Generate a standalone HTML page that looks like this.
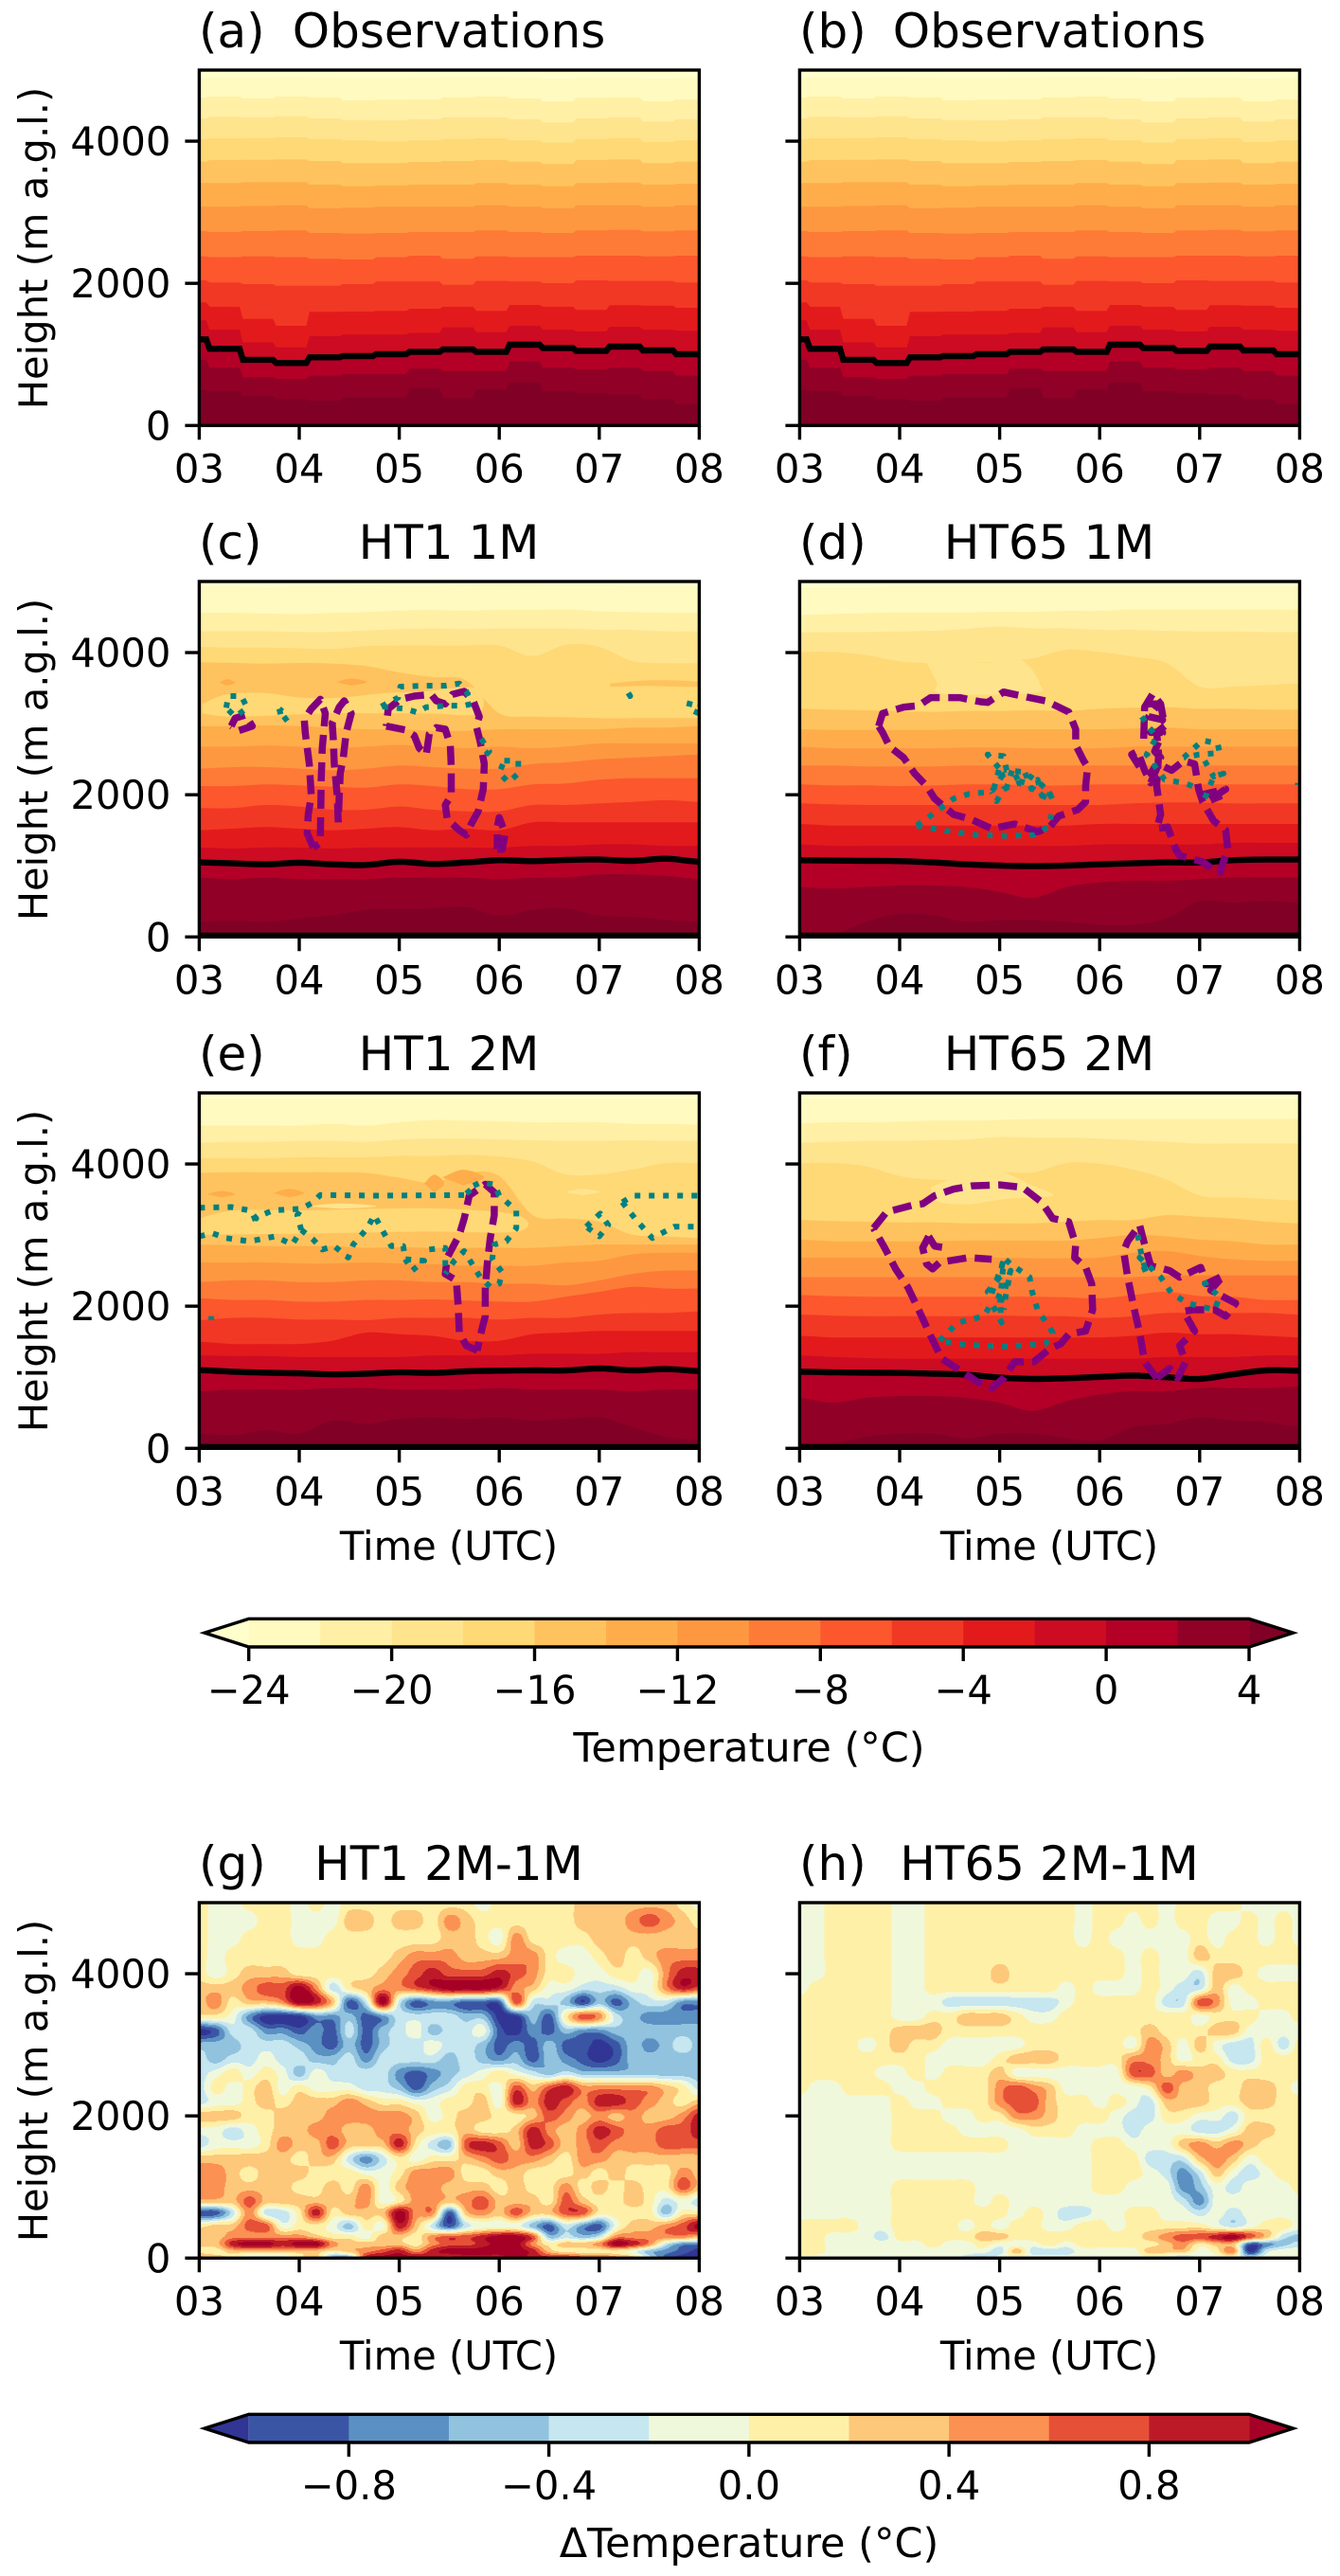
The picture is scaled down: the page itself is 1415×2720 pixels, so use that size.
<!DOCTYPE html>
<html lang="en">
<head>
<meta charset="utf-8">
<title>Temperature time-height panels</title>
<style>
html,body{margin:0;padding:0;background:#fff;}
svg{display:block;}
text{font-family:"DejaVu Sans","Liberation Sans",sans-serif;fill:#000;}
.tick{font-size:41.67px;}
.lab{font-size:41.67px;}
.cblab{font-size:43px;}
.ttl{font-size:50px;}
</style>
</head>
<body>
<svg id="figure" xmlns="http://www.w3.org/2000/svg" width="1415" height="2720" viewBox="0 0 1415 2720">
<rect x="0" y="0" width="1415" height="2720" fill="#fff"/>
<g id="layer-marks"></g>

<text class="ttl" x="210" y="50">(a)</text>
<text class="ttl" x="474" y="50" text-anchor="middle">Observations</text>
<text class="ttl" x="844" y="50">(b)</text>
<text class="ttl" x="1108" y="50" text-anchor="middle">Observations</text>

<text class="ttl" x="210" y="590">(c)</text>
<text class="ttl" x="474" y="590" text-anchor="middle">HT1 1M</text>
<text class="ttl" x="844" y="590">(d)</text>
<text class="ttl" x="1108" y="590" text-anchor="middle">HT65 1M</text>

<text class="ttl" x="210" y="1130">(e)</text>
<text class="ttl" x="474" y="1130" text-anchor="middle">HT1 2M</text>
<text class="ttl" x="844" y="1130">(f)</text>
<text class="ttl" x="1108" y="1130" text-anchor="middle">HT65 2M</text>

<text class="ttl" x="210" y="1985">(g)</text>
<text class="ttl" x="474" y="1985" text-anchor="middle">HT1 2M-1M</text>
<text class="ttl" x="844" y="1985">(h)</text>
<text class="ttl" x="1108" y="1985" text-anchor="middle">HT65 2M-1M</text>

<text class="lab" transform="translate(50,262) rotate(-90)" text-anchor="middle">Height (m a.g.l.)</text>
<text class="lab" transform="translate(50,802) rotate(-90)" text-anchor="middle">Height (m a.g.l.)</text>
<text class="lab" transform="translate(50,1342) rotate(-90)" text-anchor="middle">Height (m a.g.l.)</text>
<text class="lab" transform="translate(50,2197) rotate(-90)" text-anchor="middle">Height (m a.g.l.)</text>

<text class="lab" x="474" y="1647" text-anchor="middle">Time (UTC)</text>
<text class="lab" x="1108" y="1647" text-anchor="middle">Time (UTC)</text>
<text class="lab" x="474" y="2502" text-anchor="middle">Time (UTC)</text>
<text class="lab" x="1108" y="2502" text-anchor="middle">Time (UTC)</text>

<text class="cblab" x="791" y="1860" text-anchor="middle">Temperature (°C)</text>
<text class="cblab" x="791" y="2700" text-anchor="middle">ΔTemperature (°C)</text>
</svg>

<script>
// ---------- axis tick data ----------
const hourTicks = [3, 4, 5, 6, 7, 8];
const hourLabels = ['03', '04', '05', '06', '07', '08'];
const heightTicks = [0, 2000, 4000];
const heightLabels = ['0', '2000', '4000'];

// ---------- colour scales ----------
const tempLevels = [-24, -22, -20, -18, -16, -14, -12, -10, -8, -6, -4, -2, 0, 2, 4];
const tempColors = ['#ffffcc', '#fffabf', '#fff0a6', '#ffe48e', '#fed976', '#fec35e', '#fead4a', '#fd9841', '#fd7b37', '#fc572d', '#f13824', '#e31a1c', '#cd0b22', '#b40026', '#910026', '#800026'];
const tempCbarTicks = [-24, -20, -16, -12, -8, -4, 0, 4];
const tempCbarLabels = ['\u221224', '\u221220', '\u221216', '\u221212', '\u22128', '\u22124', '0', '4'];

const deltaLevels = [-1, -0.8, -0.6, -0.4, -0.2, 0, 0.2, 0.4, 0.6, 0.8, 1];
const deltaColors = ['#313695', '#3b55a5', '#5b90c2', '#91c3df', '#c6e6f0', '#f0f8dc', '#fff0a8', '#fdc87a', '#fb9153', '#e65037', '#bd1a28', '#a50026'];
const deltaCbarTicks = [-0.8, -0.4, 0, 0.4, 0.8];
const deltaCbarLabels = ['\u22120.8', '\u22120.4', '0.0', '0.4', '0.8'];

// ---------- temperature contour boundaries (m) at each time knot, one row per level ----------
const knotTimes = [3, 3.333, 3.667, 4, 4.333, 4.667, 5, 5.333, 5.667, 6, 6.333, 6.667, 7, 7.333, 7.667, 8];

const obsBoundaries = [
[4890,4900,4900,4910,4900,4890,4890,4900,4910,4910,4900,4880,4900,4900,4880,4890],
[4609,4631,4600,4631,4618,4574,4583,4587,4618,4631,4600,4556,4609,4618,4565,4587],
[4321,4343,4334,4352,4321,4298,4290,4307,4334,4334,4307,4263,4321,4334,4276,4307],
[4032,4041,4045,4054,4032,4010,3996,4010,4032,4041,4010,3979,4032,4045,3988,4010],
[3712,3735,3739,3743,3721,3690,3690,3708,3721,3735,3712,3677,3735,3743,3690,3712],
[3410,3410,3424,3424,3388,3366,3379,3388,3388,3410,3388,3366,3410,3419,3388,3401],
[3077,3077,3090,3099,3055,3064,3077,3077,3077,3099,3077,3055,3099,3099,3077,3099],
[2735,2722,2735,2744,2709,2700,2709,2722,2722,2744,2722,2709,2744,2753,2731,2744],
[2380,2367,2380,2367,2345,2336,2367,2389,2345,2380,2367,2367,2389,2389,2380,2389],
[2043,2012,1989,1967,1967,1989,2025,2025,1980,2034,2025,2003,2043,2034,2034,2012],
[1732,1670,1501,1403,1599,1603,1612,1643,1670,1612,1696,1670,1625,1692,1687,1656],
[1479,1345,1168,1101,1257,1279,1279,1301,1381,1314,1403,1345,1323,1390,1345,1332],
[1212,1079,924,879,959,977,1003,1035,1070,1035,1137,1088,1048,1110,1057,1003],
[924,813,679,657,702,724,724,799,768,768,901,813,790,813,768,702],
[502,480,413,369,346,391,391,524,382,502,604,480,457,435,369,302]
];
const ht1m1Boundaries = [
[4930,4930,4920,4930,4930,4940,4930,4930,4950,4960,4960,4950,4950,4930,4930,4930],
[4560,4560,4550,4540,4560,4570,4590,4600,4590,4600,4600,4610,4580,4570,4560,4560],
[4300,4300,4300,4290,4290,4310,4330,4340,4330,4340,4340,4340,4320,4320,4300,4300],
[4080,4070,4070,4060,4050,4090,4100,4100,4100,4100,3950,4110,4080,3880,3850,3850],
[3863,3854,3845,3854,3845,3810,3721,3654,3610,3144,3099,3090,3077,3077,3077,3077],
[2966,2966,2975,2966,2944,2921,2921,2899,2899,2921,2921,2921,2921,2944,2944,2966],
[2677,2677,2691,2677,2655,2677,2700,2677,2655,2677,2655,2677,2722,2722,2722,2722],
[2367,2389,2389,2367,2344,2367,2411,2389,2367,2367,2433,2455,2500,2522,2544,2566],
[2122,2122,2145,2131,2113,2100,2145,2122,2078,2078,2145,2158,2211,2233,2233,2233],
[1812,1812,1856,1834,1789,1789,1834,1789,1767,1767,1856,1856,1878,1900,1923,1900],
[1501,1523,1545,1523,1501,1523,1545,1501,1523,1501,1612,1612,1612,1612,1612,1612],
[1257,1243,1257,1257,1243,1257,1257,1257,1257,1257,1279,1279,1301,1301,1279,1279],
[1048,1035,1021,1043,1021,1012,1057,1026,1048,1079,1066,1083,1088,1070,1101,1057],
[835,812,835,812,812,812,835,835,835,812,835,835,879,879,857,812],
[213,230,213,258,302,380,391,400,420,300,380,400,300,280,240,213]
];
const ht65m1Boundaries = [
[4920,4920,4920,4930,4930,4930,4930,4930,4930,4930,4930,4930,4930,4930,4930,4930],
[4529,4542,4555,4564,4564,4564,4573,4573,4587,4587,4609,4609,4609,4609,4609,4600],
[4285,4289,4289,4298,4307,4333,4365,4342,4342,4320,4320,4307,4298,4298,4289,4289],
[4009,4009,3965,3876,3850,3850,3880,3920,4040,4009,3943,3854,3521,3521,3543,3565],
[3210,3197,3188,3179,3166,3179,3179,3188,3179,3210,3223,3232,3210,3210,3197,3197],
[2921,2913,2913,2913,2913,2921,2921,2921,2921,2921,2930,2944,2921,2921,2921,2921],
[2677,2655,2655,2655,2655,2664,2664,2655,2655,2655,2677,2677,2677,2677,2677,2677],
[2411,2411,2398,2398,2398,2411,2411,2411,2411,2411,2411,2411,2411,2411,2411,2411],
[2145,2131,2131,2122,2131,2145,2145,2131,2131,2145,2145,2145,2145,2145,2145,2145],
[1878,1865,1856,1856,1856,1856,1856,1856,1856,1856,1878,1891,1891,1878,1878,1878],
[1590,1567,1567,1567,1567,1567,1567,1567,1567,1590,1590,1590,1590,1590,1590,1590],
[1301,1279,1279,1279,1279,1279,1279,1279,1279,1301,1301,1301,1301,1323,1323,1323],
[1079,1074,1070,1066,1048,1021,1003,995,1003,1021,1035,1048,1048,1079,1088,1088],
[702,679,702,724,724,702,635,546,702,768,790,790,812,835,835,835],
[36,36,213,324,302,213,235,235,213,169,169,258,502,480,502,480]
];
const ht1m2Boundaries = [
[4920,4920,4920,4920,4920,4920,4920,4920,4920,4920,4920,4920,4920,4920,4920,4920],
[4541,4541,4541,4541,4564,4541,4587,4619,4610,4601,4587,4587,4587,4564,4564,4555],
[4298,4312,4312,4325,4325,4312,4344,4358,4358,4344,4335,4325,4325,4335,4325,4325],
[4082,4082,4082,4096,4096,4096,4114,4114,4128,4105,4036,3853,3853,3922,4014,4014],
[3876,3885,3885,3885,3885,3876,3807,3738,3876,3830,3280,3234,3188,3004,2982,2958],
[2867,2858,2844,2844,2844,2821,2830,2821,2821,2821,2821,2844,2867,2867,2867,2867],
[2615,2615,2615,2601,2601,2615,2601,2592,2569,2569,2569,2615,2638,2729,2752,2752],
[2339,2362,2362,2339,2339,2362,2362,2339,2339,2316,2316,2294,2362,2454,2500,2500],
[2110,2087,2087,2064,2064,2087,2087,2096,2078,2064,2064,2133,2202,2271,2248,2248],
[1803,1835,1835,1812,1812,1803,1835,1835,1835,1812,1835,1835,1881,1904,1904,1927],
[1500,1468,1468,1468,1514,1628,1605,1583,1514,1514,1605,1628,1651,1651,1651,1651],
[1307,1298,1298,1284,1284,1284,1284,1307,1307,1307,1330,1330,1330,1353,1353,1353],
[1101,1078,1064,1055,1041,1050,1069,1060,1083,1092,1096,1096,1124,1096,1115,1087],
[803,826,826,826,849,849,826,826,826,849,826,826,826,803,826,826],
[206,183,252,206,390,344,413,436,413,436,390,413,436,298,161,115]
];
const ht65m2Boundaries = [
[4920,4920,4920,4920,4920,4920,4920,4920,4920,4920,4920,4920,4920,4920,4920,4920],
[4573,4587,4587,4596,4610,4610,4619,4633,4633,4633,4633,4633,4633,4633,4633,4633],
[4298,4312,4325,4325,4335,4344,4381,4371,4371,4358,4335,4312,4289,4289,4289,4289],
[4014,4014,3968,3830,3780,3790,3880,3880,4014,4004,3922,3784,3555,3532,3509,3486],
[3211,3197,3188,3179,3179,3165,3165,3165,3188,3211,3211,3280,3257,3234,3188,3165],
[2936,2913,2913,2913,2913,2922,2922,2922,2922,2958,3004,2982,2936,2913,2867,2867],
[2683,2683,2683,2683,2683,2683,2683,2674,2674,2683,2752,2775,2706,2660,2638,2638],
[2408,2408,2408,2408,2408,2408,2408,2408,2408,2408,2408,2431,2431,2431,2431,2431],
[2156,2142,2133,2133,2133,2133,2133,2133,2124,2110,2156,2202,2142,2133,2087,2087],
[1881,1867,1858,1858,1858,1858,1867,1858,1858,1835,1858,1904,1904,1904,1904,1881],
[1583,1560,1560,1560,1560,1560,1560,1560,1560,1560,1583,1628,1605,1605,1583,1560],
[1307,1284,1270,1261,1261,1261,1261,1261,1261,1261,1261,1284,1284,1284,1307,1307],
[1078,1069,1064,1060,1050,1037,995,977,986,1005,1023,1000,977,1041,1096,1092],
[711,642,711,734,734,711,642,528,665,757,803,803,849,849,849,872],
[69,69,161,206,206,138,206,206,138,115,298,344,436,390,367,298]
];

// ---------- isolated temperature patches (inversion pockets) ----------
const cPatchTimes = [[3.03,3.27,3.65,4.02,4.40,4.87,5.25,5.77,5.79,5.25,4.31,3.36,3.03],[3.20,3.28,3.36,3.28],[4.37,4.52,4.68,4.52],[7.11,7.5,7.98,7.98,7.5,7.11]];
const cPatchHeights = [[3277,3410,3432,3366,3366,3432,3454,3499,3144,3144,3144,3099,3144],[3575,3625,3575,3535],[3585,3635,3585,3535],[3565,3610,3590,3520,3530,3520]];
const cPatchColorIndex = [4, 6, 6, 5];

const dPatchTimes = [[4.27,4.37,4.44,5.34,5.40,5.29,5.14,4.9,4.6]];
const dPatchHeights = [[3860,3588,3419,3432,3565,3810,3930,3860,3860]];
const dPatchColorIndex = [3];

const ePatchTimes = [[3,3.36,4.07,4.78,5.48,6.19,6.19,5.25,4.31,3],[6.66,6.83,7.0,6.83],[4.07,4.42,4.78,4.42],[3.08,3.22,3.36,3.22],[3.74,3.9,4.05,3.9],[5.43,5.64,5.85,5.64],[5.25,5.35,5.45,5.35]];
const ePatchHeights = [[3234,3348,3348,3371,3371,3280,3050,3050,3027,3004],[3605,3650,3605,3560],[3405,3445,3405,3371],[3575,3620,3575,3530],[3590,3650,3590,3530],[3810,3920,3810,3700],[3725,3850,3725,3600]];
const ePatchColorIndex = [4, 3, 3, 6, 6, 6, 6];

const fPatchTimes = [[4.31,4.38,4.69,5.07,5.53,5.30,5.07,4.88,4.50]];
const fPatchHeights = [[3670,3472,3436,3509,3555,3715,3867,3899,3784]];
const fPatchColorIndex = [3];

// ---------- cloud contours: liquid (purple dashed) and ice (teal dotted) ----------
const cPurpleTimes = [
[3.32,3.36,3.46,3.53,3.39,3.32],
[4.14,4.08,4.09,4.12,4.10,4.06,4.05,4.12,4.21,4.26,4.23,4.22,4.21,4.14],
[4.39,4.38,4.35,4.34,4.33,4.40,4.45,4.52,4.47,4.44,4.41,4.40,4.39],
[4.87,5.06,5.15,5.20,5.27,5.30,5.37,5.46,5.51,5.52,5.52,5.46,5.48,5.60,5.67,5.72,5.79,5.84,5.85,5.81,5.77,5.80,5.74,5.65,5.53,5.46,5.37,5.32,5.15,5.01,4.89,4.87],
[5.98,6.03,6.06,6.00,5.98,5.98]
];
const cPurpleHeights = [
[2966,3077,3121,2966,2899,2966],
[1257,1456,1723,1989,2433,2877,3055,3210,3343,3144,2655,2211,1323,1257],
[1612,1989,2433,2788,3010,3232,3321,3144,2877,2522,2300,1989,1612],
[2966,2913,2833,2655,2566,2855,2944,2922,2700,2389,1989,1856,1656,1501,1434,1590,1767,2078,2433,2744,2966,3099,3321,3454,3410,3277,3321,3410,3388,3343,3210,2966],
[1234,1234,1456,1678,1545,1234]
];
const cTealTimes = [
[3.27,3.29,3.42,3.48,3.36,3.27],
[3.80,3.83,3.89,3.80],
[4.82,4.99,5.01,5.27,5.46,5.60,5.67,5.72,5.65,5.48,5.27,5.18,5.06,4.82],
[7.29,7.31,7.27,7.29],
[8.0,7.89,7.91,8.0],
[5.82,5.90,5.81],
[6.05,6.19,6.19,6.09,6.00,6.05]
];
const cTealHeights = [
[3223,3388,3388,3223,3099,3223],
[3210,3033,3099,3210],
[3241,3366,3521,3534,3534,3565,3454,3277,3254,3254,3232,3157,3210,3241],
[3432,3388,3388,3432],
[3143,3210,3321,3277],
[2788,2611,2478],
[2478,2478,2300,2176,2309,2478]
];

const dPurpleTimes = [
[3.79,3.83,4.04,4.19,4.31,4.60,4.81,4.88,5.04,5.27,5.46,5.69,5.76,5.76,5.84,5.88,5.86,5.86,5.78,5.59,5.50,5.38,5.15,4.92,4.71,4.54,4.35,4.27,4.15,4.04,3.90,3.83,3.79],
[6.44,6.45,6.53,6.61,6.65,6.57,6.59,6.57,6.61,6.57,6.68,6.76,6.80,7.03,7.14,7.20,7.28,7.26,7.14,7.03,6.99,6.95,6.84,6.72,6.59,6.51,6.45,6.38,6.32,6.40,6.45],
[6.47,6.59,6.49,6.63,6.51,6.63,6.55,6.61,6.51,6.61],
[6.99,7.26,7.07,7.22]
];
const dPurpleHeights = [
[2966,3144,3232,3254,3366,3366,3308,3299,3445,3374,3321,3166,2922,2700,2478,2389,2122,1900,1789,1700,1545,1479,1590,1523,1656,1723,1945,2122,2300,2522,2677,2877,2966],
[2788,3232,3419,3277,2966,2877,2566,2122,1723,1523,1545,1234,1146,1057,946,901,1234,1501,1634,1900,2078,2433,2478,2344,2433,2167,2344,2611,2566,2389,2300],
[3277,3277,3099,3055,2877,2877,2611,2522,2300,2167],
[1989,2078,1900,1989]
];
const dTealTimes = [
[4.17,4.35,4.54,4.69,4.92,5.04,4.88,5.04,5.07,5.23,5.38,5.50,5.53,5.42,5.34,5.19,5.04,4.97,4.92],
[4.17,4.46,4.77,5.07,5.34,5.48,5.52],
[4.94,5.00,5.07,5.13,5.21,5.25,5.32,5.38,5.42,5.48,5.53],
[6.42,6.51,6.57,6.47,6.65,6.84,6.97],
[6.84,7.03,7.18,7.20,6.99,6.84],
[7.05,7.14,7.24,7.14,7.05],
[7.98,7.98]
];
const dTealHeights = [
[1567,1745,1945,2011,2042,2300,2566,2544,2344,2322,2189,2034,1923,1989,2078,2167,2078,1909,2042],
[1567,1492,1434,1421,1434,1545,1723],
[2078,2389,2100,2367,2122,2322,2078,2211,1989,2078,1923],
[3099,2922,2811,2566,2211,2167,2100],
[2522,2766,2722,2589,2566,2522],
[2478,2256,2300,2256,1945],
[2167,2140]
];

const ePurpleTimes = [[5.78,5.67,5.60,5.59,5.57,5.46,5.48,5.60,5.65,5.70,5.86,5.95,5.95,5.91,5.88,5.86,5.86,5.81,5.78]];
const ePurpleHeights = [[1376,1445,1628,1995,2362,2454,2683,3004,3234,3555,3715,3601,3280,2958,2592,2225,1858,1583,1376]];
const eTealTimes = [
[3,3.32,3.50,3.57,3.50,3.74,4.02,4.14,4.21,4.78,5.72,5.67,5.81,5.95,6.00,6.17,6.17,6.07,5.95,5.93,6.03,6.00,5.91,5.81,5.74,5.65,5.55,5.46],
[3,3.13,3.27,3.50,3.76,3.93,4.02,3.98,4.02],
[4.02,4.14,4.23,4.35,4.49,4.54,4.68,4.75,4.82,4.92,5.04,5.06,5.25,5.13,5.06],
[5.30,5.46,5.46,5.48],
[6.87,7.01,7.09,7.00,6.87],
[7.23,7.34,8],
[7.23,7.37,7.53,7.75,8],
[3.12,3.12]
];
const eTealHeights = [
[3385,3394,3348,3234,3211,3348,3371,3463,3564,3555,3564,3647,3738,3715,3555,3348,3096,2913,2867,2660,2477,2316,2271,2408,2569,2775,2638,2454],
[2982,3027,2958,2913,2982,2867,3073,3280,3371],
[3073,2936,2798,2844,2683,2867,3096,3280,3096,2844,2844,2660,2638,2500,2660],
[2798,2821,2592,2454],
[3119,3303,3142,2982,3119],
[3463,3555,3555],
[3463,3211,2958,3119,3119],
[1858,1803]
];

const fPurpleTimes = [
[3.74,3.87,4.12,4.23,4.35,4.54,4.73,5.00,5.23,5.42,5.53,5.69,5.76,5.75,5.86,5.92,5.93,5.86,5.69,5.61,5.50,5.42,5.34,5.15,5.04,4.92,4.77,4.65,4.42,4.31,4.19,4.08,3.96,3.85,3.74],
[4.29,4.23,4.27,4.33,4.40,4.69,4.92],
[4.29,4.35,4.50],
[6.57,6.45,6.40,6.34,6.28,6.24,6.28,6.40,6.45,6.51,6.70,6.80,7.01,7.07,7.24,7.11,7.36,7.26,7.15,6.93,6.84,6.95,6.80,6.86,6.78,6.70,6.57]
];
const fPurpleHeights = [
[3096,3326,3417,3440,3555,3647,3693,3706,3670,3463,3234,3188,2867,2683,2546,2316,1949,1651,1605,1468,1399,1307,1216,1216,986,849,940,1055,1261,1583,1949,2271,2523,2821,3096],
[2982,2821,2592,2523,2615,2683,2660],
[2982,2844,2812],
[986,1216,1628,1995,2408,2775,2913,3142,2867,2569,2500,2408,2546,2316,2431,2225,2041,1858,1949,1949,1926,1651,1445,1216,986,1124,986]
];
const fTealTimes = [
[4.40,4.58,4.84,4.92,5.02,5.00,4.88,5.00,5.04,5.11,5.30,5.32,5.38,5.53,5.46,5.07,4.69,4.40],
[4.92,5.04,5.00,5.11,5.06,5.04],
[6.38,6.42,6.47,6.40,6.61,6.72,6.88,7.15,7.20,7.05,7.15]
];
const fTealHeights = [
[1514,1766,1858,2041,1766,2133,2202,2408,2683,2592,2408,2225,1949,1628,1468,1436,1454,1514],
[2179,2638,1995,2500,2133,1949],
[3004,2706,2454,2683,2408,2179,2041,1949,2133,2316,2385]
];

// ---------- temperature-difference heatmaps: rows by height, values in tenths of a degree ----------
const deltaHeights = [5000,4750,4500,4250,4000,3800,3600,3400,3200,3000,2800,2600,2400,2200,2000,1800,1600,1400,1200,1000,800,640,450,300,200,100,0];
const deltaTimes = [3,3.167,3.333,3.5,3.667,3.833,4,4.167,4.333,4.5,4.667,4.833,5,5.167,5.333,5.5,5.667,5.833,6,6.167,6.333,6.5,6.667,6.833,7,7.167,7.333,7.5,7.667,7.833,8];
const deltaG = [
[1,-1,-1,1,1,1,-1,1,-1,1,1,1,1,1,1,1,1,-1,1,1,1,1,1,3,3,3,3,3,3,1,-1],
[1,-1,-1,-1,1,1,-1,-1,-1,3,3,1,3,3,1,5,3,1,1,1,1,1,1,3,3,3,5,7,5,3,1],
[1,-1,-1,1,1,1,-1,-1,1,1,1,1,1,1,1,3,3,1,-1,5,1,1,1,1,3,3,3,3,3,3,3],
[1,-1,1,1,1,1,1,1,1,1,1,1,3,5,5,5,3,3,3,5,5,1,-1,-1,1,3,1,3,5,5,5],
[1,-1,1,3,3,3,1,1,1,1,1,3,5,7,9,7,7,7,9,7,5,1,1,-1,-1,1,1,-1,5,9,9],
[3,3,3,5,7,7,11,5,-3,1,3,5,5,7,9,11,11,11,9,5,3,-1,-1,-3,-3,-3,-1,-1,5,9,7],
[3,5,1,3,3,5,11,9,3,-9,-3,11,-3,-9,-7,-7,-9,-9,-9,7,-3,-3,-5,-10,-5,-9,-5,-3,-3,-7,-7],
[1,1,-1,-7,-11,-11,-11,-7,-7,-5,-9,-7,-3,-3,-3,-3,-5,-5,-11,-11,-5,-9,1,7,5,-3,-5,-7,-7,-7,-7],
[-11,-9,-3,-3,-7,-7,-9,-7,-9,-3,-9,-5,-3,-1,-5,-3,-3,-1,-9,-11,-7,-9,-5,-7,-7,-5,-5,-5,-5,-5,-5],
[-5,-5,-5,-3,-3,-3,-5,-7,-9,-5,-9,-5,-3,-3,-1,-3,-3,-5,-9,-7,-9,-5,-9,-9,-11,-9,-5,-7,-5,-3,-5],
[-3,-5,-3,-3,-1,-3,-3,-5,-5,-3,-7,-3,-3,-3,-3,-5,-3,-5,-7,-5,-9,-5,-7,-9,-11,-9,-5,-5,-5,-5,-5],
[-3,-1,1,-1,1,-1,-5,-1,-3,-3,-3,-3,-7,-9,-7,-5,-3,-1,1,-1,-3,-5,-3,-5,-5,-5,-5,-5,-5,-5,-5],
[-3,1,-1,1,3,-1,1,-1,-1,-1,-3,-3,-5,-9,-5,-3,1,1,-1,7,3,7,9,5,5,5,5,5,3,1,-3],
[-3,-1,-1,1,3,1,3,3,3,5,3,1,1,-1,-1,1,1,3,-1,9,5,9,7,5,9,9,7,5,3,1,3],
[3,3,3,1,1,3,3,3,5,5,5,5,5,3,-1,1,3,3,1,1,3,7,5,3,5,3,5,3,3,5,9],
[-1,-1,-3,-1,1,3,3,5,5,3,3,5,5,3,1,1,3,1,1,3,9,5,3,5,9,7,5,5,7,7,9],
[-3,-1,-1,-1,1,5,3,3,7,3,3,3,9,1,-3,-5,7,9,7,3,9,7,3,5,7,5,5,5,7,7,7],
[3,3,3,3,3,3,1,3,3,-3,-7,-3,1,-1,1,1,3,5,7,5,5,3,1,5,5,3,3,3,3,3,3],
[5,5,3,1,3,3,3,1,1,1,-1,-1,1,5,5,5,1,1,3,3,1,1,1,3,1,3,1,1,1,5,3],
[5,5,3,3,3,3,1,1,3,1,5,-1,3,5,5,3,3,3,1,3,1,1,5,1,3,1,3,1,1,7,3],
[3,3,3,7,3,3,3,3,3,3,5,-1,1,5,5,3,5,7,3,3,3,1,7,3,1,1,3,1,-3,-1,-3],
[-9,-9,-3,5,-3,-3,1,9,1,3,3,3,11,5,5,-9,3,5,3,7,3,3,7,7,1,1,1,1,-5,1,1],
[1,3,3,7,7,-1,1,1,-1,-5,1,-1,9,3,-3,-9,-3,-1,-1,-1,-5,-9,-3,-7,-9,-1,3,3,5,7,11],
[3,3,5,5,5,5,5,3,1,1,-1,3,3,1,5,7,7,9,11,11,7,-5,-3,-5,-3,5,5,5,5,5,3],
[3,3,9,11,11,9,11,11,5,3,3,3,3,1,5,7,7,9,11,11,5,1,3,3,5,11,9,5,-3,-7,-7],
[1,1,3,3,3,3,3,3,1,3,5,7,9,5,9,11,11,11,11,11,9,3,1,1,1,1,-1,-5,-7,-9,-11],
[5,3,1,-3,-3,-3,1,3,-7,-7,9,11,11,11,9,7,9,9,9,11,9,9,9,7,7,5,3,-3,-9,-11,-11]
];
const deltaH = [
[-1,-1,1,1,1,1,-1,-1,1,1,1,1,1,1,1,1,1,-1,1,1,1,1,-1,1,1,1,1,-1,-1,-1,-1],
[-1,-1,1,1,1,1,-1,-1,1,1,1,1,1,1,1,1,1,-1,1,1,-1,1,-1,1,1,-1,-1,1,-1,1,-1],
[-1,-1,1,1,1,1,-1,-1,1,1,1,1,1,1,1,1,1,-1,1,-1,-1,-1,-1,-1,1,-1,1,1,-1,1,-1],
[-1,-1,1,1,1,1,-1,-1,1,1,1,1,1,1,1,1,1,1,1,1,-1,1,-1,-1,3,1,1,1,1,1,1],
[-1,-1,1,1,1,1,-1,-1,1,1,1,1,3,1,1,1,1,1,1,1,-1,1,-1,-1,-3,3,3,1,-1,-1,-1],
[-1,1,1,1,1,1,-1,-1,1,1,1,1,1,1,1,1,-1,1,-1,-1,-1,1,-1,-3,-3,3,-1,1,1,1,1],
[1,1,1,1,1,1,-1,-1,-1,-3,-3,-3,-3,-3,-3,-3,-1,1,1,1,1,1,-3,-3,7,5,-1,-1,1,1,1],
[1,1,1,1,1,1,-1,-1,1,1,3,3,3,1,-1,-1,1,1,1,1,1,1,1,1,-1,1,1,1,-1,-1,1],
[1,1,1,1,1,1,3,3,3,1,1,1,1,1,1,1,1,1,1,1,1,3,1,1,1,3,3,-1,-1,-1,-1],
[1,1,1,1,-1,1,3,1,1,-1,-1,-1,-1,-1,1,1,1,1,1,1,-1,5,3,-1,3,-1,-3,-3,1,-3,1],
[1,1,1,1,1,1,1,1,-1,-1,-1,-1,1,3,3,3,1,1,1,1,5,5,3,-1,1,1,-3,-3,1,1,1],
[1,1,1,1,1,-1,-1,1,-1,1,1,1,3,-1,-1,-1,-1,-1,-1,-1,7,7,3,5,3,3,1,1,1,1,1],
[1,-1,-1,1,1,1,-1,-1,1,1,1,1,5,7,5,3,-1,-1,-1,-1,-1,1,7,3,3,1,1,3,3,1,-1],
[-1,-1,-1,-1,-1,-1,1,-1,-1,1,1,1,5,7,7,3,1,1,-1,1,-1,-3,3,3,3,1,1,3,3,1,1],
[-1,-1,-1,-1,-1,-1,1,1,1,-1,-1,1,1,5,5,3,1,1,1,-1,-3,-3,1,1,-1,-1,-3,1,1,1,1],
[-1,-1,-1,-1,-1,-1,1,1,1,1,-1,-1,-1,-1,1,1,1,-1,-1,-1,-3,-1,-1,-1,-3,-3,-1,3,3,1,1],
[-1,-1,-1,-1,-1,-1,1,1,1,1,1,1,1,-1,-1,-1,-1,-1,1,1,-1,-1,-1,3,5,3,5,3,1,1,1],
[-1,-1,-1,-1,-1,-1,-1,-1,-1,-1,-1,-1,-1,-1,-1,-1,-1,-1,1,1,1,-3,-3,-3,3,5,3,-1,1,1,1],
[-1,-1,-1,-1,-1,-1,-1,-1,-1,-1,-1,-1,-1,-1,-1,-1,-1,-1,1,1,1,-1,-3,-7,-3,3,-1,-3,-1,1,1],
[-1,-1,-1,-1,-1,-1,1,1,1,1,1,-1,-1,-1,-1,-1,-1,-1,1,1,-1,-1,-1,-7,-5,-1,-3,-1,-1,-1,1],
[-1,-1,-1,-1,-1,-1,1,1,1,1,1,-1,1,-1,-1,-1,-1,-1,-1,-1,-1,-1,-1,-3,-7,-1,-1,-1,-1,-1,-1],
[-1,-1,-1,-1,-1,-1,1,1,1,1,1,1,1,-1,1,-1,-3,-3,-1,-1,1,1,-1,-1,-3,-1,-3,-1,-1,-1,-1],
[1,1,1,1,-1,-1,1,1,1,1,-1,1,-1,1,1,-1,-1,1,1,-1,1,1,1,1,1,-1,-3,-1,1,1,-1],
[1,1,-1,-1,-1,-3,1,1,1,1,1,3,3,1,1,1,1,1,1,1,1,3,5,7,7,9,11,7,3,-3,-5],
[1,1,-1,-1,-1,-1,-1,-1,1,-1,-1,1,-1,-1,-1,1,-1,1,1,1,1,1,3,5,1,3,3,-9,-7,-5,-3],
[1,1,-1,-1,-1,-1,-1,-1,-1,-1,-1,-1,-3,3,-3,-3,-3,-1,-1,-1,-1,3,3,3,-1,1,5,-11,-3,-1,-1],
[-1,-1,-1,-1,-1,-1,-1,-1,-1,-1,-3,-5,-1,-1,-1,-1,-1,-1,-1,-1,-1,-1,-3,-5,-1,-1,-1,-3,-1,-1,-1]
];

// ---------- figure layout ----------
const axisLayout = { colLeft: [210.4, 844.4], rowTop: [74, 614, 1154, 2009], width: 528, height: 375.3 };
const SVGNS = 'http://www.w3.org/2000/svg';
const root = document.getElementById('layer-marks');

function mk(tag, parent, attrs) {
  const node = document.createElementNS(SVGNS, tag);
  for (const key in attrs) node.setAttribute(key, attrs[key]);
  parent.appendChild(node);
  return node;
}

function makeAxes(left, top) {
  return {
    left: left, top: top, right: left + axisLayout.width, bottom: top + axisLayout.height,
    x: function (t) { return left + (t - 3) / 5 * axisLayout.width; },
    y: function (h) { return top + axisLayout.height - h / 5000 * axisLayout.height; }
  };
}

function catmull(v0, v1, v2, v3, u) {
  return 0.5 * (2 * v1 + (v2 - v0) * u + (2 * v0 - 5 * v1 + 4 * v2 - v3) * u * u + (3 * v1 - v0 - 3 * v2 + v3) * u * u * u);
}

function smoothPoints(times, values) {
  const pts = [];
  for (let i = 0; i < times.length - 1; i++) {
    const v0 = values[Math.max(i - 1, 0)], v1 = values[i], v2 = values[i + 1], v3 = values[Math.min(i + 2, values.length - 1)];
    for (let s = 0; s < 6; s++) {
      const u = s / 6;
      pts.push([times[i] + (times[i + 1] - times[i]) * u, catmull(v0, v1, v2, v3, u)]);
    }
  }
  pts.push([times[times.length - 1], values[values.length - 1]]);
  return pts;
}

function steppedPoints(times, values) {
  const pts = [];
  for (let i = 0; i < times.length; i++) {
    pts.push([Math.max(3, times[i] - 0.23), values[i]]);
    pts.push([Math.min(8, times[i] + 0.07), values[i]]);
  }
  return pts;
}

function pointsToPath(ax, pts) {
  return pts.map(function (p, i) { return (i ? 'L' : 'M') + ax.x(p[0]).toFixed(1) + ' ' + ax.y(p[1]).toFixed(1); }).join(' ');
}

function drawFrame(ax, group, showYLabels) {
  const frame = mk('rect', group, { x: ax.left, y: ax.top, width: axisLayout.width, height: axisLayout.height, fill: 'none', stroke: '#000', 'stroke-width': 3.4 });
  
  
  hourTicks.forEach(function (t, i) {
    const px = ax.x(t);
    const tick = mk('line', group, { x1: px, x2: px, y1: ax.bottom, y2: ax.bottom + 15, stroke: '#000', 'stroke-width': 3.4 });
    
    
    const label = mk('text', group, { x: px, y: ax.bottom + 60, 'text-anchor': 'middle', class: 'tick' });
    label.textContent = hourLabels[i];
    
    
  });
  heightTicks.forEach(function (h, i) {
    const py = ax.y(h);
    const tick = mk('line', group, { x1: ax.left - 15, x2: ax.left, y1: py, y2: py, stroke: '#000', 'stroke-width': 3.4 });
    
    
    if (showYLabels) {
      const label = mk('text', group, { x: ax.left - 30, y: py + 15, 'text-anchor': 'end', class: 'tick' });
      label.textContent = heightLabels[i];
      
      
    }
  });
}

function makeClip(id, ax) {
  const clip = mk('clipPath', root, { id: 'clip-' + id });
  mk('rect', clip, { x: ax.left, y: ax.top, width: axisLayout.width, height: axisLayout.height });
  return 'url(#clip-' + id + ')';
}

function drawContours(group, ax, timesList, heightsList, color, width, dash, name) {
  timesList.forEach(function (times, i) {
    const pts = times.map(function (t, j) { return [t, heightsList[i][j]]; });
    const line = mk('path', group, { d: pointsToPath(ax, pts), fill: 'none', stroke: color, 'stroke-width': width, 'stroke-dasharray': dash, 'stroke-linejoin': 'round' });
    
    
  });
}

function drawTemperaturePanel(cfg) {
  const ax = makeAxes(axisLayout.colLeft[cfg.col], axisLayout.rowTop[cfg.row]);
  const group = mk('g', root, {});
  
  
  const clipRef = makeClip(cfg.id, ax);
  const plot = mk('g', group, { 'clip-path': clipRef });
  
  

  const base = mk('rect', plot, { x: ax.left, y: ax.top, width: axisLayout.width, height: axisLayout.height, fill: tempColors[0] });
  
  

  const toPoints = cfg.stepped ? steppedPoints : smoothPoints;
  tempLevels.forEach(function (level, i) {
    const pts = toPoints(knotTimes, cfg.bounds[i]);
    const d = pointsToPath(ax, pts) + ' L' + ax.right + ' ' + ax.bottom + ' L' + ax.left + ' ' + ax.bottom + ' Z';
    const band = mk('path', plot, { d: d, fill: tempColors[i + 1] });
    
    
  });

  if (cfg.patchTimes) {
    cfg.patchTimes.forEach(function (times, i) {
      const pts = smoothPoints(times.map(function (t, j) { return j; }), times).map(function (p, j) {
        const source = smoothPoints(times.map(function (t, k) { return k; }), cfg.patchHeights[i]);
        return [p[1], source[j][1]];
      });
      const patch = mk('path', plot, { d: pointsToPath(ax, pts) + ' Z', fill: tempColors[cfg.patchColors[i]] });
      
      
    });
  }

  const zeroIndex = tempLevels.indexOf(0);
  const zeroLine = mk('path', plot, { d: pointsToPath(ax, toPoints(knotTimes, cfg.bounds[zeroIndex])), fill: 'none', stroke: '#000', 'stroke-width': 6.4 });
  
  

  if (!cfg.stepped) {
    const ground = mk('line', plot, { x1: ax.left, x2: ax.right, y1: ax.y(0), y2: ax.y(0), stroke: '#000', 'stroke-width': 9 });
    
    
  }

  if (cfg.purpleTimes) {
    drawContours(plot, ax, cfg.purpleTimes, cfg.purpleHeights, '#800080', 7.5, '20 9', 'liquid-cloud-contour');
    drawContours(plot, ax, cfg.tealTimes, cfg.tealHeights, '#008080', 6, '6 9', 'ice-cloud-contour');
  }
  drawFrame(ax, group, cfg.col === 0);
}

function bandIndex(levels, value) {
  let idx = 0;
  while (idx < levels.length && value >= levels[idx]) idx++;
  return idx;
}

function drawDeltaPanel(cfg) {
  const ax = makeAxes(axisLayout.colLeft[cfg.col], axisLayout.rowTop[cfg.row]);
  const group = mk('g', root, {});
  
  
  const clipRef = makeClip(cfg.id, ax);
  const plot = mk('g', group, { 'clip-path': clipRef });
  
  

  const parts = deltaColors.map(function () { return []; });
  const W = Math.round(axisLayout.width), H = Math.round(axisLayout.height);
  const nRows = deltaHeights.length, nCols = deltaTimes.length;
  const rowValues = new Array(nCols);
  for (let py = 0; py < H; py++) {
    const h = 5000 * (1 - (py + 0.5) / axisLayout.height);
    let r = 0;
    while (r < nRows - 2 && deltaHeights[r + 1] > h) r++;
    const fr = (deltaHeights[r] - h) / (deltaHeights[r] - deltaHeights[r + 1]);
    const r0 = Math.max(r - 1, 0), r3 = Math.min(r + 2, nRows - 1);
    for (let c = 0; c < nCols; c++) {
      rowValues[c] = catmull(cfg.grid[r0][c], cfg.grid[r][c], cfg.grid[r + 1][c], cfg.grid[r3][c], fr);
    }
    let runStart = 0, runBand = -1;
    for (let px = 0; px <= W; px++) {
      let band = -2;
      if (px < W) {
        const t = 3 + 5 * (px + 0.5) / axisLayout.width;
        const cf = (t - deltaTimes[0]) * 6;
        const c = Math.min(Math.floor(cf), nCols - 2);
        const fc = cf - c;
        const value = catmull(rowValues[Math.max(c - 1, 0)], rowValues[c], rowValues[c + 1], rowValues[Math.min(c + 2, nCols - 1)], fc);
        band = bandIndex(deltaLevels, value / 10);
      }
      if (band !== runBand) {
        if (runBand >= 0) {
          const wRun = px - runStart;
          parts[runBand].push('M' + (ax.left + runStart).toFixed(1) + ' ' + (ax.top + py).toFixed(1) + 'h' + (wRun + 0.4) + 'v1.4h-' + (wRun + 0.4) + 'z');
        }
        runStart = px;
        runBand = band;
      }
    }
  }
  parts.forEach(function (segments, i) {
    if (!segments.length) return;
    const bandPath = mk('path', plot, { d: segments.join(''), fill: deltaColors[i] });
    
    
  });
  drawFrame(ax, group, cfg.col === 0);
}

function drawColorbar(cfg) {
  const group = mk('g', root, {});
  
  
  const x0 = 262.7, x1 = 1319, tipL = 216, tipR = 1365.5, yT = cfg.top, yB = cfg.top + 29.7, yM = cfg.top + 14.85;
  const n = cfg.levels.length - 1;
  const lo = cfg.levels[0], hi = cfg.levels[n];
  const cx = function (v) { return x0 + (v - lo) / (hi - lo) * (x1 - x0); };
  const left = mk('polygon', group, { points: tipL + ',' + yM + ' ' + x0 + ',' + yT + ' ' + x0 + ',' + yB, fill: cfg.colors[0] });
  
  
  const right = mk('polygon', group, { points: tipR + ',' + yM + ' ' + x1 + ',' + yT + ' ' + x1 + ',' + yB, fill: cfg.colors[n + 1] });
  
  
  for (let i = 0; i < n; i++) {
    const seg = mk('rect', group, { x: cx(cfg.levels[i]), y: yT, width: cx(cfg.levels[i + 1]) - cx(cfg.levels[i]) + 0.5, height: yB - yT, fill: cfg.colors[i + 1] });
    
    
  }
  const outline = mk('polygon', group, { points: tipL + ',' + yM + ' ' + x0 + ',' + yT + ' ' + x1 + ',' + yT + ' ' + tipR + ',' + yM + ' ' + x1 + ',' + yB + ' ' + x0 + ',' + yB, fill: 'none', stroke: '#000', 'stroke-width': 3.4 });
  
  
  cfg.ticks.forEach(function (v, i) {
    const tick = mk('line', group, { x1: cx(v), x2: cx(v), y1: yB, y2: yB + 15, stroke: '#000', 'stroke-width': 3.4 });
    
    
    const label = mk('text', group, { x: cx(v), y: yB + 60, 'text-anchor': 'middle', class: 'tick' });
    label.textContent = cfg.labels[i];
    
    
  });
}

drawTemperaturePanel({ id: 'a', col: 0, row: 0, bounds: obsBoundaries, stepped: true });
drawTemperaturePanel({ id: 'b', col: 1, row: 0, bounds: obsBoundaries, stepped: true });
drawTemperaturePanel({ id: 'c', col: 0, row: 1, bounds: ht1m1Boundaries, patchTimes: cPatchTimes, patchHeights: cPatchHeights, patchColors: cPatchColorIndex, purpleTimes: cPurpleTimes, purpleHeights: cPurpleHeights, tealTimes: cTealTimes, tealHeights: cTealHeights });
drawTemperaturePanel({ id: 'd', col: 1, row: 1, bounds: ht65m1Boundaries, patchTimes: dPatchTimes, patchHeights: dPatchHeights, patchColors: dPatchColorIndex, purpleTimes: dPurpleTimes, purpleHeights: dPurpleHeights, tealTimes: dTealTimes, tealHeights: dTealHeights });
drawTemperaturePanel({ id: 'e', col: 0, row: 2, bounds: ht1m2Boundaries, patchTimes: ePatchTimes, patchHeights: ePatchHeights, patchColors: ePatchColorIndex, purpleTimes: ePurpleTimes, purpleHeights: ePurpleHeights, tealTimes: eTealTimes, tealHeights: eTealHeights });
drawTemperaturePanel({ id: 'f', col: 1, row: 2, bounds: ht65m2Boundaries, patchTimes: fPatchTimes, patchHeights: fPatchHeights, patchColors: fPatchColorIndex, purpleTimes: fPurpleTimes, purpleHeights: fPurpleHeights, tealTimes: fTealTimes, tealHeights: fTealHeights });
drawDeltaPanel({ id: 'g', col: 0, row: 3, grid: deltaG });
drawDeltaPanel({ id: 'h', col: 1, row: 3, grid: deltaH });
drawColorbar({ name: 'temperature-colorbar', top: 1709.3, levels: tempLevels, colors: tempColors, ticks: tempCbarTicks, labels: tempCbarLabels });
drawColorbar({ name: 'delta-colorbar', top: 2549.3, levels: deltaLevels, colors: deltaColors, ticks: deltaCbarTicks, labels: deltaCbarLabels });
</script>
</body>
</html>
